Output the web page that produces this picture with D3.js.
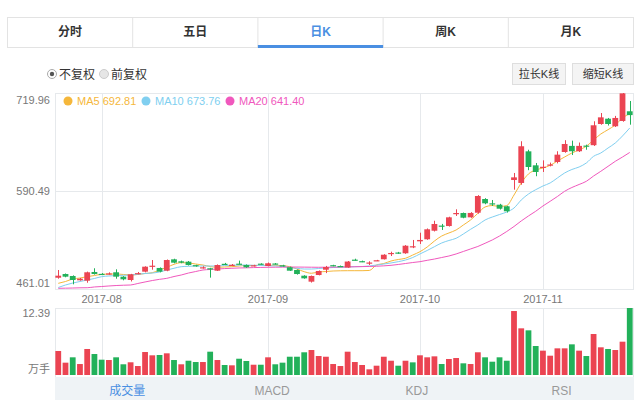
<!DOCTYPE html>
<html>
<head>
<meta charset="utf-8">
<script src="https://cdn.jsdelivr.net/npm/d3@7"></script>
<style>
body { margin: 0; background: #fff; }
svg { display: block; font-family: Arial, "Liberation Sans", "Noto Sans CJK SC", sans-serif; }
</style>
</head>
<body>
<svg id="kline" width="640" height="400"></svg>
<script>
// tabs and labels
var tabs = ["分时", "五日", "日K", "周K", "月K"];
var indTabs = ["成交量", "MACD", "KDJ", "RSI"];
var monthTicks = ["2017-08", "2017-09", "2017-10", "2017-11"];
var priceTicks = [719.96, 590.49, 461.01];
var volMax = 12.39;
var volUnit = "万手";
var maNames = ["MA5", "MA10", "MA20"];
var maLast = ["692.81", "673.76", "641.40"];

// trading days
var days = [
  "2017-07-24","2017-07-25","2017-07-26","2017-07-27","2017-07-28","2017-07-31",
  "2017-08-01","2017-08-02","2017-08-03","2017-08-04","2017-08-07","2017-08-08","2017-08-09","2017-08-10",
  "2017-08-11","2017-08-14","2017-08-15","2017-08-16","2017-08-17","2017-08-18","2017-08-21","2017-08-22",
  "2017-08-23","2017-08-24","2017-08-25","2017-08-28","2017-08-29","2017-08-30","2017-08-31",
  "2017-09-01","2017-09-04","2017-09-05","2017-09-06","2017-09-07","2017-09-08","2017-09-11","2017-09-12",
  "2017-09-13","2017-09-14","2017-09-15","2017-09-18","2017-09-19","2017-09-20","2017-09-21","2017-09-22",
  "2017-09-25","2017-09-26","2017-09-27","2017-09-28","2017-09-29",
  "2017-10-09","2017-10-10","2017-10-11","2017-10-12","2017-10-13","2017-10-16","2017-10-17","2017-10-18",
  "2017-10-19","2017-10-20","2017-10-23","2017-10-24","2017-10-25","2017-10-26","2017-10-27","2017-10-30","2017-10-31",
  "2017-11-01","2017-11-02","2017-11-03","2017-11-06","2017-11-07","2017-11-08","2017-11-09","2017-11-10",
  "2017-11-13","2017-11-14","2017-11-15","2017-11-16","2017-11-17"
];

var open = [475.9,480.8,478.2,472.5,472.0,483.5,481.0,481.0,483.1,477.3,
  472.9,481.5,483.9,491.0,488.8,485.2,500.2,497.6,497.1,492.5,
  488.4,488.4,485.2,494.3,492.5,494.5,492.7,491.4,494.5,491.4,
  494.7,492.3,489.7,486.1,478.6,470.7,479.5,486.5,492.5,491.4,
  489.4,499.8,497.8,495.5,498.5,500.3,508.0,509.2,508.2,516.5,
  524.0,526.7,538.0,544.8,544.2,560.5,561.4,555.7,561.8,579.9,
  574.2,572.4,570.3,605.0,601.1,642.9,624.4,621.3,624.5,628.8,
  642.0,650.1,643.0,650.5,651.0,679.0,686.0,676.0,683.0,695.8];
var close = [478.6,477.3,472.9,474.6,483.1,480.8,480.4,481.6,477.3,473.8,
  480.4,482.0,490.5,491.8,483.9,499.3,495.8,495.8,492.7,491.5,
  489.7,487.1,492.7,493.8,493.0,494.0,489.7,492.3,493.8,495.0,
  493.8,491.4,485.2,480.8,475.1,478.2,484.8,490.0,491.8,490.5,
  497.3,499.2,497.2,496.0,499.0,506.3,508.6,508.6,518.2,517.5,
  525.8,539.9,546.9,544.2,555.7,561.4,555.2,561.5,583.9,574.2,
  573.3,567.1,563.7,608.5,649.6,622.2,615.6,622.5,625.5,638.5,
  652.6,643.0,650.1,649.5,677.3,687.8,679.0,687.0,719.5,690.75];
var high = [486.1,481.5,479.0,475.5,484.0,488.4,482.0,483.0,487.0,478.0,
  481.0,483.5,491.0,499.3,489.5,500.0,501.0,498.5,498.0,493.0,
  491.0,489.0,493.5,495.5,494.0,498.5,493.5,493.0,495.0,496.0,
  495.3,493.0,490.5,486.8,479.2,478.8,485.5,491.5,493.0,492.0,
  498.0,501.0,498.5,497.6,499.5,507.0,510.3,510.0,519.0,525.8,
  535.4,541.0,551.2,547.0,556.5,566.3,562.0,562.5,585.0,581.0,
  578.6,573.5,571.0,614.3,656.2,645.0,627.5,631.0,628.0,643.0,
  657.6,657.0,654.5,651.7,682.6,693.5,687.0,689.7,719.96,709.4];
var low = [474.6,476.5,467.2,472.0,469.3,480.0,479.5,480.0,474.6,472.5,
  471.0,480.5,483.0,486.5,483.0,484.5,495.0,495.0,492.0,490.5,
  488.0,476.0,484.8,493.0,492.0,493.5,489.0,490.8,493.0,491.0,
  493.2,490.7,484.8,480.0,474.6,469.5,479.0,482.0,491.0,490.0,
  489.0,498.5,496.5,492.7,498.0,500.0,504.6,507.5,507.5,515.0,
  520.5,526.0,537.0,539.0,543.5,557.5,554.5,555.0,560.5,573.0,
  570.7,566.0,562.0,592.2,598.8,618.0,610.0,615.6,623.0,627.0,
  641.0,638.0,642.0,645.0,650.0,678.0,677.0,675.0,682.0,678.1];

var ma5 = [468.5,470.9,474.2,475.5,477.3,478.8,480.4,480.8,480.8,480.2,
  479.5,480.2,481.5,482.5,486.1,489.7,493.6,495.8,495.4,494.0,
  492.7,490.7,489.7,490.1,490.5,491.4,492.1,492.1,492.3,492.3,
  492.3,491.8,490.5,487.4,483.9,481.8,483.5,484.1,484.8,485.1,
  485.2,485.2,485.2,485.5,492.7,494.7,498.0,500.0,501.6,505.9,
  510.3,516.5,524.4,531.0,535.0,539.0,545.6,552.2,561.0,569.4,
  571.3,570.0,571.3,585.2,601.1,613.0,618.2,620.9,624.4,630.1,
  635.4,640.7,644.7,649.6,657.9,665.8,671.5,677.7,686.9,692.81];
var ma10 = [463.0,466.3,468.9,470.9,472.9,474.9,477.3,478.2,478.8,479.1,
  479.5,480.4,481.5,482.1,483.5,486.1,488.4,490.5,491.0,491.4,
  491.4,491.4,491.4,492.1,492.3,492.7,492.7,492.3,492.1,491.8,
  491.4,491.0,489.2,488.4,487.4,487.4,488.1,488.8,489.4,489.8,
  490.1,490.5,490.7,491.4,492.7,494.0,495.4,497.1,499.3,502.6,
  507.3,511.9,516.9,521.8,525.1,528.0,533.7,539.9,545.6,552.2,
  556.1,559.4,562.7,568.0,578.6,586.5,592.2,597.1,601.1,607.7,
  614.3,618.9,622.2,627.5,636.3,640.7,647.3,653.9,663.2,673.76];
var ma20 = [461.9,462.1,462.3,462.6,462.7,463.7,464.3,465.0,465.6,466.0,
  466.3,468.3,470.3,472.2,473.8,475.1,477.5,479.5,482.1,484.1,
  486.1,486.8,487.4,488.0,488.4,488.8,489.0,489.3,489.5,489.7,
  489.8,489.9,490.0,490.0,489.9,489.8,489.7,489.8,489.9,490.0,
  490.2,490.4,490.6,490.8,491.1,491.6,492.3,493.4,494.7,496.0,
  497.1,498.9,500.6,502.6,504.6,507.3,510.6,513.9,517.2,521.4,
  525.8,531.0,537.0,543.6,550.9,557.5,563.7,570.7,576.9,583.2,
  590.1,595.1,599.1,603.3,610.3,616.5,623.1,629.7,635.4,641.4];

// volume in 万手, and whether the bar is drawn red (1) or green (0)
var volume = [4.44,2.28,3.27,2.03,4.81,3.88,2.83,2.77,3.27,1.98,
  2.35,1.66,4.25,3.64,3.70,4.01,2.77,1.98,2.64,2.40,
  2.40,4.31,2.77,1.85,1.79,3.01,2.59,1.90,1.90,3.27,
  1.98,2.28,3.38,3.38,4.20,4.62,3.51,3.38,2.03,1.66,
  4.31,2.40,1.85,1.05,1.72,3.38,2.64,1.72,2.64,2.34,
  3.64,3.27,3.45,2.03,2.96,3.14,2.16,2.03,4.20,3.27,
  2.46,3.27,2.64,11.83,8.63,8.26,5.36,4.50,3.57,4.93,
  4.93,5.67,4.50,3.51,7.58,5.12,4.81,4.62,6.16,12.39];
var volUp = [1,1,0,1,1,0,0,1,0,0, 1,1,1,1,0,1,0,1,0,0,
  1,0,1,0,1,0,0,1,0,1, 0,0,0,0,0,1,1,1,1,1,
  1,1,1,1,1,1,1,0,1,0, 1,1,1,0,1,1,0,1,1,0,
  0,0,0,1,1,0,0,1,1,1, 1,0,1,0,1,1,0,1,1,0];

var RED = "#eb4452", GREEN = "#22b15a";
var maColors = ["#f5b73b", "#80cff0", "#f058bd"];
var GRID = "#e6e9ec", TXT = "#777";

var svg = d3.select("#kline");
var L = 55, R = 634, pTop = 93, pBot = 289, vTop = 308, vBot = 375;

// ---- top tabs ----
var tabX = d3.scaleBand().domain(tabs).range([7.5, 633.5]);
svg.append("rect").attr("x", 7.5).attr("y", 17.5).attr("width", 626).attr("height", 30)
    .attr("fill", "#fff").attr("stroke", "#e3e3e3");
svg.selectAll(".tabdiv").data(tabs.slice(1)).enter().append("line")
    .attr("x1", function(d) { return tabX(d); }).attr("x2", function(d) { return tabX(d); })
    .attr("y1", 17.5).attr("y2", 47.5).attr("stroke", "#e3e3e3");
svg.append("rect").attr("x", tabX("日K")).attr("y", 45).attr("width", tabX.bandwidth()).attr("height", 3)
    .attr("fill", "#4a8fe2");
svg.selectAll(".tab").data(tabs).enter().append("text")
    .attr("x", function(d) { return tabX(d) + tabX.bandwidth() / 2; })
    .attr("y", 36).attr("text-anchor", "middle").attr("font-size", 12).attr("font-weight", "bold")
    .attr("fill", function(d) { return d == "日K" ? "#4a8fe2" : "#333"; })
    .text(function(d) { return d; });

// ---- radio + buttons ----
svg.append("circle").attr("cx", 52).attr("cy", 74).attr("r", 4.5).attr("fill", "#fff").attr("stroke", "#aaa");
svg.append("circle").attr("cx", 52).attr("cy", 74).attr("r", 2.2).attr("fill", "#555");
svg.append("text").attr("x", 59).attr("y", 78.5).attr("font-size", 12).attr("fill", "#333").text("不复权");
svg.append("circle").attr("cx", 104).attr("cy", 74).attr("r", 4.5).attr("fill", "#e6e6e6").attr("stroke", "#ccc");
svg.append("text").attr("x", 111).attr("y", 78.5).attr("font-size", 12).attr("fill", "#333").text("前复权");

var buttons = [{t: "拉长K线", x: 512.5, w: 53}, {t: "缩短K线", x: 572.5, w: 61}];
buttons.forEach(function(b) {
    svg.append("rect").attr("x", b.x).attr("y", 63.5).attr("width", b.w).attr("height", 21)
        .attr("fill", "#f4f4f4").attr("stroke", "#dedede");
    svg.append("text").attr("x", b.x + b.w / 2).attr("y", 78).attr("text-anchor", "middle")
        .attr("font-size", 11).attr("fill", "#333").text(b.t);
});

// ---- scales ----
var x = d3.scaleBand().domain(days).range([L, R - 1]).paddingInner(0.2).paddingOuter(0.05);
var cx = function(d) { return x(d) + x.bandwidth() / 2; };
var y = d3.scaleLinear().domain([priceTicks[2], priceTicks[0]]).range([pBot, pTop]);
var yv = d3.scaleLinear().domain([0, volMax]).range([vBot, vTop]);

var firstDays = monthTicks.map(function(m) {
    return days.find(function(d) { return d.indexOf(m) == 0; });
});

// ---- grid + frames ----
svg.append("rect").attr("x", L + 0.5).attr("y", pTop + 0.5).attr("width", R - L - 1).attr("height", pBot - pTop)
    .attr("fill", "none").attr("stroke", GRID);
svg.append("line").attr("x1", L).attr("x2", R).attr("y1", Math.round(y(priceTicks[1])) + 0.5)
    .attr("y2", Math.round(y(priceTicks[1])) + 0.5).attr("stroke", GRID);
svg.append("rect").attr("x", L + 0.5).attr("y", vTop + 0.5).attr("width", R - L - 1).attr("height", vBot - vTop + 2)
    .attr("fill", "none").attr("stroke", GRID);
svg.selectAll(".vgrid").data(firstDays).enter().append("line")
    .attr("x1", function(d) { return Math.round(cx(d)) + 0.5; })
    .attr("x2", function(d) { return Math.round(cx(d)) + 0.5; })
    .attr("y1", pTop).attr("y2", pBot).attr("stroke", GRID);
svg.selectAll(".vgrid2").data(firstDays).enter().append("line")
    .attr("x1", function(d) { return Math.round(cx(d)) + 0.5; })
    .attr("x2", function(d) { return Math.round(cx(d)) + 0.5; })
    .attr("y1", vTop).attr("y2", vBot).attr("stroke", GRID);

// ---- axis labels ----
svg.append("text").attr("x", 50).attr("y", y(priceTicks[0]) + 11).attr("text-anchor", "end")
    .attr("font-size", 11).attr("fill", TXT).text(priceTicks[0].toFixed(2));
svg.append("text").attr("x", 50).attr("y", y(priceTicks[1]) + 4).attr("text-anchor", "end")
    .attr("font-size", 11).attr("fill", TXT).text(priceTicks[1].toFixed(2));
svg.append("text").attr("x", 50).attr("y", y(priceTicks[2]) - 2).attr("text-anchor", "end")
    .attr("font-size", 11).attr("fill", TXT).text(priceTicks[2].toFixed(2));
svg.append("text").attr("x", 50).attr("y", yv(volMax) + 9).attr("text-anchor", "end")
    .attr("font-size", 11).attr("fill", TXT).text(volMax.toFixed(2));
svg.append("text").attr("x", 50).attr("y", yv(0) - 2).attr("text-anchor", "end")
    .attr("font-size", 11).attr("fill", TXT).text(volUnit);
svg.selectAll(".mlab").data(monthTicks).enter().append("text")
    .attr("x", function(d, i) { return cx(firstDays[i]); }).attr("y", 303)
    .attr("text-anchor", "middle").attr("font-size", 11).attr("fill", TXT)
    .text(function(d) { return d; });

// ---- MA lines ----
[ma5, ma10, ma20].forEach(function(ma, k) {
    var line = d3.line()
        .x(function(d, i) { return cx(days[i]); })
        .y(function(d) { return y(d); })
        .curve(d3.curveMonotoneX);
    svg.append("path").datum(ma).attr("d", line).attr("fill", "none")
        .attr("stroke", maColors[k]).attr("stroke-width", 1);
});

// ---- candles ----
var candles = svg.append("g").selectAll("g").data(days).enter().append("g")
    .attr("fill", function(d, i) { return close[i] >= open[i] ? RED : GREEN; })
    .attr("stroke", function(d, i) { return close[i] >= open[i] ? RED : GREEN; });
candles.append("line")
    .attr("x1", function(d) { return Math.round(cx(d)) + 0.5; })
    .attr("x2", function(d) { return Math.round(cx(d)) + 0.5; })
    .attr("y1", function(d, i) { return y(high[i]); })
    .attr("y2", function(d, i) { return y(low[i]); });
candles.append("rect")
    .attr("stroke", "none")
    .attr("x", function(d) { return x(d); })
    .attr("width", x.bandwidth())
    .attr("y", function(d, i) { return y(Math.max(open[i], close[i])); })
    .attr("height", function(d, i) { return Math.max(1.2, Math.abs(y(open[i]) - y(close[i]))); });

// ---- volume ----
svg.append("g").selectAll("rect").data(days).enter().append("rect")
    .attr("x", function(d) { return x(d); })
    .attr("width", x.bandwidth())
    .attr("y", function(d, i) { return yv(volume[i]); })
    .attr("height", function(d, i) { return vBot - yv(volume[i]); })
    .attr("fill", function(d, i) { return volUp[i] ? RED : GREEN; });

// ---- legend ----
var legX = [68, 146, 230];
maNames.forEach(function(n, k) {
    svg.append("circle").attr("cx", legX[k]).attr("cy", 101).attr("r", 4.5).attr("fill", maColors[k]);
    svg.append("text").attr("x", legX[k] + 9).attr("y", 105).attr("font-size", 11)
        .attr("fill", maColors[k]).text(n + " " + maLast[k]);
});

// ---- indicator tabs ----
var indX = d3.scaleBand().domain(indTabs).range([L, R]);
svg.append("rect").attr("x", L).attr("y", 377).attr("width", R - L).attr("height", 23).attr("fill", "#eff3f6");
svg.selectAll(".ind").data(indTabs).enter().append("text")
    .attr("x", function(d) { return indX(d) + indX.bandwidth() / 2; })
    .attr("y", 395).attr("text-anchor", "middle").attr("font-size", 12)
    .attr("fill", function(d, i) { return i == 0 ? "#4a8fe2" : "#999"; })
    .text(function(d) { return d; });
</script>
</body>
</html>
